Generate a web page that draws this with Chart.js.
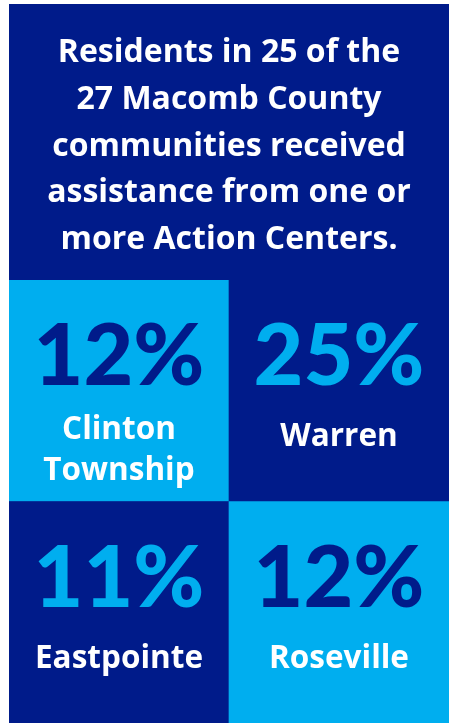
<!DOCTYPE html>
<html>
<head>
<meta charset="utf-8">
<script src="https://cdn.jsdelivr.net/npm/chart.js@4"></script>
<style>
  html, body { margin: 0; padding: 0; background: #ffffff; }
  canvas { display: block; }
</style>
</head>
<body>
<canvas id="mycanvas" width="449" height="723"></canvas>
<script>
// values
var titleLines = [
    "Residents in 25 of the",
    "27 Macomb County",
    "communities received",
    "assistance from one or",
    "more Action Centers."
];
var gridColumns = ["left", "right"];
var topRowTowns = ["Clinton Township", "Warren"];
var topRowShares = [12, 25];
var bottomRowTowns = ["Eastpointe", "Roseville"];
var bottomRowShares = [11, 12];

var NAVY = "#001b8a";
var SKY = "#00aeef";
var TEXT_FONT = "'Open Sans', Lato, sans-serif";
var NUM_FONT = "Lato, 'Open Sans', sans-serif";

// dark panel behind everything
var panelBackground = {
    id: "panelBackground",
    beforeDraw: function(chart){
        var ctx = chart.ctx;
        ctx.save();
        ctx.fillStyle = NAVY;
        ctx.fillRect(9, 4, chart.width - 9, chart.height - 4);
        ctx.restore();
    }
};

function wrapLabel(ctx, text, maxWidth){
    if (ctx.measureText(text).width <= maxWidth) return [text];
    var words = text.split(" ");
    var lines = [];
    var line = "";
    for (var i = 0; i < words.length; i++){
        var test = line ? line + " " + words[i] : words[i];
        if (line && ctx.measureText(test).width > maxWidth){
            lines.push(line);
            line = words[i];
        } else {
            line = test;
        }
    }
    lines.push(line);
    return lines;
}

// percentage + town name inside each cell
var cellText = {
    id: "cellText",
    afterDatasetsDraw: function(chart){
        var ctx = chart.ctx;
        ctx.save();
        ctx.textAlign = "center";
        ctx.textBaseline = "alphabetic";
        chart.data.datasets.forEach(function(ds, di){
            var meta = chart.getDatasetMeta(di);
            meta.data.forEach(function(bar, i){
                var p = bar.getProps(["x", "y", "base", "width"], true);
                var top = Math.min(p.y, p.base);
                var fill = ds.backgroundColor[i];

                ctx.fillStyle = fill === SKY ? NAVY : SKY;
                ctx.font = "900 86px " + NUM_FONT;
                ctx.fillText(ds.shares[i] + "%", p.x, top + 105);

                ctx.fillStyle = "#ffffff";
                ctx.font = "bold 31.5px " + TEXT_FONT;
                var lines = wrapLabel(ctx, ds.towns[i], p.width - 30);
                var y0 = top + 166 - (lines.length - 1) * 7;
                lines.forEach(function(l, k){
                    ctx.fillText(l, p.x, y0 + k * 41);
                });
            });
        });
        ctx.restore();
    }
};

var chartData = {
    labels: gridColumns,
    datasets: [
        {
            label: "Bottom row",
            data: bottomRowShares.map(function(){ return 1; }),
            shares: bottomRowShares,
            towns: bottomRowTowns,
            backgroundColor: [NAVY, SKY],
            borderWidth: 0
        },
        {
            label: "Top row",
            data: topRowShares.map(function(){ return 1; }),
            shares: topRowShares,
            towns: topRowTowns,
            backgroundColor: [SKY, NAVY],
            borderWidth: 0
        }
    ]
};

var canvas = document.getElementById("mycanvas");

var myChart = new Chart(canvas, {
    type: "bar",
    data: chartData,
    plugins: [panelBackground, cellText],
    options: {
        responsive: false,
        animation: false,
        layout: {
            padding: { left: 9, top: 4, right: 0, bottom: 0 }
        },
        datasets: {
            bar: { categoryPercentage: 1, barPercentage: 1 }
        },
        scales: {
            x: { stacked: true, display: false },
            y: { stacked: true, display: false, min: 0, max: 2 }
        },
        plugins: {
            legend: { display: false },
            tooltip: { enabled: false },
            title: {
                display: true,
                text: titleLines,
                color: "#ffffff",
                font: { family: TEXT_FONT, size: 32, weight: "bold", lineHeight: "46.75px" },
                padding: { top: 25.6, bottom: 16.65 }
            }
        }
    }
});
</script>
</body>
</html>
